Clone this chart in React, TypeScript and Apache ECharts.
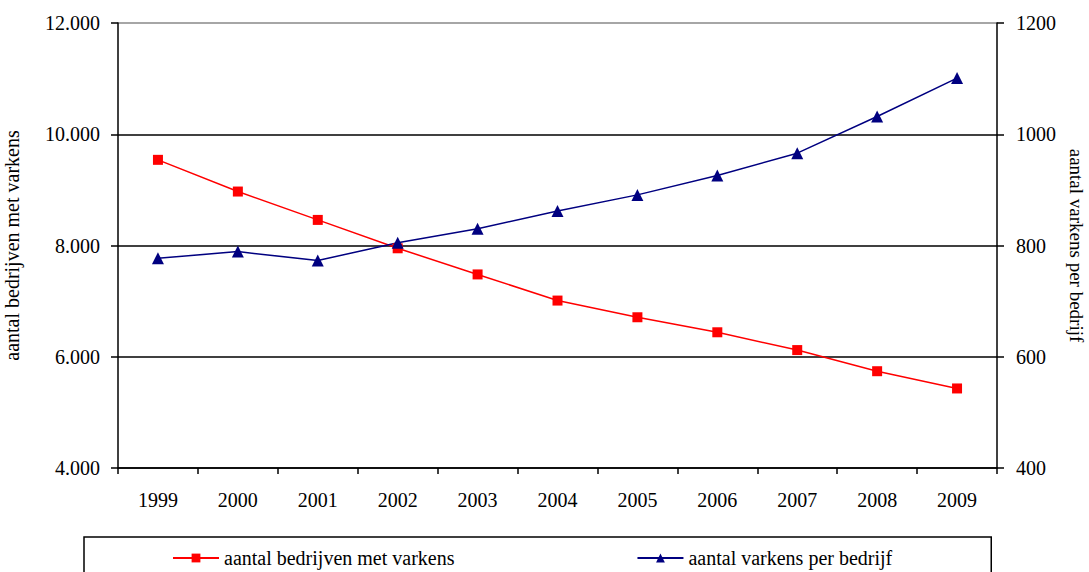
import React, { useEffect, useRef } from "react";
import * as echarts from "echarts";

const years = ["1999", "2000", "2001", "2002", "2003", "2004", "2005", "2006", "2007", "2008", "2009"];
const bedrijven = [9540, 8970, 8460, 7950, 7480, 7010, 6710, 6440, 6120, 5740, 5430];
const varkensPerBedrijf = [777, 789, 773, 805, 830, 862, 891, 926, 966, 1032, 1101];
const seriesNames = ["aantal bedrijven met varkens", "aantal varkens per bedrijf"];
const leftAxisName = "aantal bedrijven met varkens";
const rightAxisName = "aantal varkens per bedrijf";

const FONT = "'Liberation Serif', 'DejaVu Serif', serif";
const FS = 20;

export default function App() {
  const ref = useRef<HTMLDivElement>(null);
  useEffect(() => {
    document.body.style.margin = "0";
    const chart = echarts.init(ref.current!, null, { renderer: "svg" });
    chart.setOption({
      animation: false,
      backgroundColor: "#fff",
      textStyle: { fontFamily: FONT, color: "#000" },
      grid: { left: 118, right: 92, top: 23, bottom: 104, containLabel: false, outerBoundsMode: "none" },
      legend: {
        left: 84,
        top: 537,
        orient: "horizontal",
        padding: [11, 99, 12, 88],
        itemGap: 182,
        itemWidth: 46,
        itemHeight: 11,
        borderColor: "#000",
        borderWidth: 1.5,
        textStyle: { fontFamily: FONT, fontSize: FS, color: "#000" },
        data: seriesNames,
      },
      xAxis: {
        type: "category",
        data: years,
        boundaryGap: true,
        axisLine: { lineStyle: { color: "#000", width: 1.5 } },
        axisTick: { show: true, inside: false, length: 6, lineStyle: { color: "#000", width: 1.5 } },
        axisLabel: { fontFamily: FONT, fontSize: FS, color: "#000", margin: 22 },
        splitLine: { show: false },
      },
      yAxis: [
        {
          type: "value",
          min: 4000,
          max: 12000,
          interval: 2000,
          position: "left",
          name: leftAxisName,
          nameLocation: "middle",
          nameRotate: 90,
          nameGap: 96,
          nameTextStyle: { fontFamily: FONT, fontSize: FS, color: "#000" },
          axisLine: { show: true, lineStyle: { color: "#000", width: 1.5 } },
          axisTick: { show: true, inside: false, length: 7, lineStyle: { color: "#000", width: 1.5 } },
          axisLabel: {
            fontFamily: FONT,
            fontSize: FS,
            color: "#000",
            margin: 18,
            formatter: (v: number) => {
              const s = String(Math.round(v));
              return s.replace(/\B(?=(\d{3})+(?!\d))/g, ".");
            },
          },
          splitLine: {
            show: true,
            lineStyle: { color: ["#000", "#000", "#000", "#000", "#888"], width: 1.5 },
          },
        },
        {
          type: "value",
          min: 400,
          max: 1200,
          interval: 200,
          position: "right",
          name: rightAxisName,
          nameLocation: "middle",
          nameRotate: -90,
          nameGap: 69,
          nameTextStyle: { fontFamily: FONT, fontSize: 19, color: "#000" },
          axisLine: { show: true, lineStyle: { color: "#000", width: 1.5 } },
          axisTick: { show: true, inside: false, length: 7, lineStyle: { color: "#000", width: 1.5 } },
          axisLabel: {
            fontFamily: FONT,
            fontSize: FS,
            color: "#000",
            margin: 19,
            formatter: (v: number) => String(Math.round(v)),
          },
          splitLine: { show: false },
        },
      ],
      series: [
        {
          name: seriesNames[0],
          type: "line",
          yAxisIndex: 0,
          data: bedrijven,
          symbol: "rect",
          symbolSize: 10,
          itemStyle: { color: "#ff0000" },
          lineStyle: { color: "#ff0000", width: 1.5 },
        },
        {
          name: seriesNames[1],
          type: "line",
          yAxisIndex: 1,
          data: varkensPerBedrijf,
          symbol: "triangle",
          symbolSize: 12,
          itemStyle: { color: "#000080" },
          lineStyle: { color: "#000080", width: 1.5 },
        },
      ],
    });
    return () => chart.dispose();
  }, []);
  return <div ref={ref} style={{ width: 1089, height: 572 }} />;
}
